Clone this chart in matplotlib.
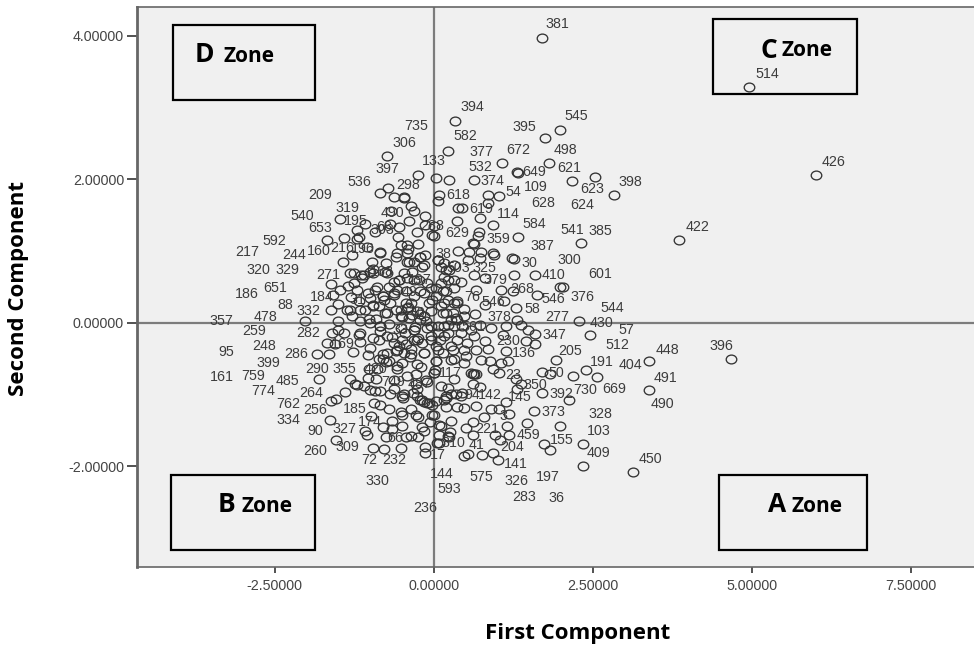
import matplotlib
matplotlib.use("Agg")
import matplotlib.pyplot as plt
from matplotlib.patches import Rectangle
from matplotlib.path import Path
from matplotlib.transforms import Affine2D

W, H = 974, 648

first_component = [
 1.71,4.96,6.01,
 0.33,1.98,1.75,0.22,1.07,1.82,1.31,1.33,0.04,0.24,0.63,2.18,2.53,2.83,0.85,1.02,0.08,0.06,0.85,0.38,0.44,0.73,0.37,0.94,0.71,0.69,1.33,2.31,3.86,0.0,0.0,0.61,0.63,0.38,0.56,0.74,0.93,0.95,1.23,1.27,0.72,0.54,0.06,1.26,1.59,1.98,2.04,0.64,0.32,0.11,0.24,0.16,0.32,0.43,0.80,0.67,1.06,1.25,1.62,1.11,0.80,1.29,0.65,0.48,0.36,1.31,2.29,1.38,1.49,1.59,2.46,1.14,0.90,0.72,1.09,0.03,0.19,0.03,0.22,0.11,0.30,0.48,0.14,0.27,0.37,0.16,0.32,0.45,0.59,0.06,0.22,
 1.59,1.45,1.14,1.92,3.38,4.67,2.40,2.56,2.19,1.71,1.83,3.38,2.13,1.70,1.31,1.38,1.30,1.03,0.88,1.17,0.74,0.58,0.66,1.14,1.19,1.03,0.90,0.66,1.57,0.79,1.47,1.98,1.16,1.19,0.97,1.04,1.73,1.83,2.35,2.34,3.13,0.94,1.01,0.76,0.54,0.47,0.61,0.51,0.61,0.27,0.11,0.22,0.24,0.08,0.48,0.37,0.19,0.0,0.73,0.61,0.43,0.27,0.16,0.03,0.22,0.32,0.0,0.03,0.27,0.48,0.66,0.85,0.30,0.80,0.64,0.43,0.03,0.14,0.48,0.93,1.06,
 -0.74,-0.25,-0.85,-0.72,-0.63,-0.47,-0.46,-0.35,-0.31,-0.67,-0.13,-0.39,-1.47,-1.08,-1.21,-1.18,-0.93,-0.68,-0.55,-1.67,-1.41,-1.21,-1.05,-1.29,-1.43,-0.84,-0.97,-0.56,-0.26,-0.13,-0.02,-0.42,-0.21,-0.57,-0.42,-0.15,-1.31,-1.15,-1.00,-0.73,-0.47,-0.31,-0.63,-1.61,-1.47,-1.34,-1.21,-1.04,-0.89,-0.79,-0.63,-0.44,-0.21,-0.02,-1.50,-1.61,-1.37,-1.08,-0.86,-0.68,-1.58,-2.03,-1.50,-1.29,-1.02,-0.84,-0.31,-0.52,-0.15,-0.05,-1.16,-0.73,
 -1.60,-1.50,-1.41,-1.18,-1.68,-1.55,-1.16,-1.84,-1.65,-1.27,-1.03,-0.86,-0.63,-0.31,-0.15,-0.73,-0.47,0.03,-0.86,-1.02,-0.89,-0.57,0.01,-1.80,-1.32,-1.21,-1.03,-0.90,-1.40,-1.54,-1.61,-1.00,-0.84,-0.63,-0.47,-0.26,-0.94,-0.84,-0.71,-0.21,-0.07,-1.63,-0.99,-0.65,-0.50,-0.28,-0.02,-0.80,-0.65,-0.50,-0.19,-0.15,-1.08,-1.05,-1.54,-0.75,-0.44,-0.36,-0.25,-0.95,-0.78,-0.52,-0.14,-0.13,0.05,0.08,0.08,
 -0.95,-0.78,-0.60,-0.40,-0.22,-0.08,-0.90,-0.70,-0.50,-0.30,-0.12,-0.85,-0.66,-0.45,-0.25,-0.05,-0.55,-0.35,-0.18,0.10,-0.75,-0.58,-0.38,-0.20,0.02,-0.62,-0.42,-0.28,-0.10,0.12,-0.48,-0.33,-0.16,-0.03,0.20,-0.52,-0.36,-0.24,-0.06,0.26,
 -1.25,-1.12,-1.30,-0.96,-0.75,-0.60,-0.40,-0.24,-0.10,-1.18,-0.92,-0.70,-0.54,-0.34,-0.18,-1.00,-0.80,-0.60,-0.44,-0.28,-0.12,
 -1.26,-1.10,-0.95,-0.76,-0.55,-0.39,-0.21,-0.13,-0.31,-0.42,-0.23,-0.79,-0.63,-1.00,-1.16,-1.31,-0.95,-0.76,-0.52,-0.36,-0.26,-0.39,-0.21,-0.05,0.16,0.32,0.19,0.35,0.22,0.06,-0.10,-0.31,-0.52,-0.84,-1.00,-1.16,-0.95,-0.73,-0.50,-0.26,-0.05,0.16,0.37,0.53,0.27,0.06,-0.15,-0.36,-0.57,-0.79,-0.71,-0.50,-0.26,0.32,0.51,0.64,0.61,0.35,0.45,0.19,-0.10,-0.18,-0.26,-0.50,-0.68,-0.92,-1.10,-1.23,-0.42,-0.52,-0.84,0.19,0.16,0.06,0.22,0.14,0.32,0.37,0.11,-0.05,-0.15,-0.31,-0.44,-0.57,-0.42,-0.34,
]
second_component = [
 3.97,3.28,2.06,
 2.81,2.69,2.57,2.39,2.22,2.23,2.10,2.08,2.02,1.99,1.99,1.98,2.03,1.78,1.78,1.77,1.78,1.69,1.67,1.60,1.60,1.46,1.42,1.36,1.26,1.21,1.19,1.11,1.15,1.35,1.21,1.11,1.09,1.00,0.98,0.99,0.97,0.94,0.90,0.89,0.90,0.88,0.88,0.67,0.67,0.50,0.50,0.67,0.81,0.77,0.74,0.64,0.60,0.57,0.62,0.45,0.46,0.44,0.38,0.30,0.24,0.20,0.12,0.19,0.27,0.04,0.03,-0.03,-0.10,-0.16,-0.17,-0.04,-0.07,-0.03,-0.17,0.48,0.44,0.37,0.32,0.23,0.13,0.09,0.13,0.04,0.04,-0.05,-0.05,-0.05,-0.10,-0.14,-0.14,
 -0.29,-0.26,-0.39,-0.52,-0.54,-0.50,-0.66,-0.76,-0.74,-0.69,-0.71,-0.94,-1.08,-0.98,-0.92,-0.86,-0.79,-0.70,-0.54,-0.54,-0.52,-0.70,-0.72,-1.10,-1.27,-1.20,-1.20,-1.16,-1.23,-1.31,-1.40,-1.44,-1.44,-1.56,-1.57,-1.64,-1.69,-1.77,-1.69,-1.99,-2.08,-1.81,-1.91,-1.84,-1.83,-1.86,-1.39,-1.46,-1.56,-1.37,-1.44,-1.58,-1.59,-1.68,-1.19,-1.17,-1.18,-1.29,-0.89,-0.86,-1.02,-1.00,-1.07,-1.09,-0.91,-0.79,-0.70,-0.54,-0.52,-0.38,-0.38,-0.37,-0.38,-0.26,-0.19,-0.14,-0.33,-0.42,-0.56,-0.65,-0.56,
 2.32,2.06,1.81,1.87,1.75,1.75,1.74,1.63,1.56,1.55,1.49,1.42,1.44,1.38,1.29,1.20,1.26,1.38,1.33,1.15,1.18,1.16,1.06,0.94,0.84,0.98,0.84,1.20,1.27,1.36,1.22,1.08,0.92,0.97,0.85,0.81,0.69,0.67,0.71,0.69,0.69,0.60,0.57,0.54,0.46,0.51,0.46,0.41,0.50,0.37,0.41,0.27,0.44,0.32,0.26,0.17,0.18,0.18,0.23,0.27,0.39,0.02,0.02,0.09,0.05,-0.05,-0.10,0.09,0.09,-0.05,0.02,0.13,
 -0.14,-0.10,-0.15,-0.17,-0.28,-0.29,-0.27,-0.43,-0.43,-0.41,-0.45,-0.24,-0.28,-0.24,-0.42,-0.42,-0.42,-0.54,-0.51,-0.65,-0.65,-0.65,-0.70,-0.78,-0.79,-0.87,-0.77,-0.79,-0.96,-1.06,-1.09,-0.94,-0.95,-0.93,-1.00,-0.93,-1.12,-1.15,-1.20,-1.07,-1.12,-1.35,-1.30,-1.37,-1.28,-1.29,-1.29,-1.45,-1.48,-1.44,-1.45,-1.51,-1.51,-1.56,-1.63,-1.59,-1.59,-1.58,-1.59,-1.75,-1.76,-1.74,-1.73,-1.81,-1.67,-1.56,-1.43,
 0.25,0.31,0.18,0.22,0.12,0.28,0.05,-0.02,0.08,-0.06,0.03,-0.12,-0.20,-0.15,-0.22,-0.18,-0.32,-0.36,-0.28,-0.24,-0.55,-0.60,-0.48,-0.62,-0.66,-0.80,-0.74,-0.85,-0.82,-0.88,-1.05,-0.98,-1.10,-1.15,-1.02,-1.25,-1.20,-1.32,-1.38,-1.52,
 0.55,0.62,0.36,0.75,0.83,0.92,1.02,1.10,0.55,0.30,0.45,0.50,0.60,0.70,0.78,-0.35,-0.50,-0.40,-0.30,-0.72,-0.80,
 0.69,0.67,0.69,0.71,0.60,0.85,0.92,0.94,0.85,0.62,0.60,0.37,0.39,0.34,0.18,0.18,0.23,0.13,0.18,0.27,0.16,0.06,0.04,0.16,0.27,0.27,0.13,0.06,-0.03,-0.05,-0.07,-0.10,-0.07,-0.05,0.0,-0.14,-0.21,-0.19,-0.24,-0.24,-0.24,-0.19,-0.24,-0.28,-0.33,-0.38,-0.42,-0.44,-0.38,-0.44,-0.54,-0.56,-0.58,-0.51,-0.47,-0.72,-0.71,-1.00,-0.98,-1.05,-1.12,-1.07,-1.02,-1.02,-1.00,-0.95,-0.88,-0.86,0.97,1.08,0.97,0.74,0.83,0.88,0.60,0.44,0.48,0.30,0.55,0.48,0.41,0.37,0.44,0.46,0.20,0.11,
]

label_text = ["381","514","426","396","735","306","133","397","536","298","209","319","490","540","195","653","68","592","303","217","244","160","216","196","320","329","271","168","186","651","184","31","88","332","478","357","259","282","33","49","197","40","238",
 "394","545","395","582","377","672","498","532","649","621","374","109","54","623","398","618","628","624","619","114","584","541","385","422","629","359","387","38","300","30","503","325","410","601","379","268","76","546","546","376","58","544","378","277","430","57","347","561",
 "512","448","230","136","205","191","404","50","23","117","350","491","392","730","669","145","142","94","373","328","490","3","221","103","459","155","310","41","204","409","450","17","141","144","575","326","197","593","283","36","236",
 "248","95","286","399","290","355","161","759","485","774","264","749","762","256","185","334","174","90","327","260","309","72","232","330","66","169","420","487"]
label_px = [557,767,834,721,416,404,434,387,359,408,320,347,392,302,356,320,384,274,382,247,294,319,342,363,258,287,328,382,247,275,322,357,285,308,265,221,254,308,400,410,420,417,432,
 472,576,524,465,481,518,565,480,534,569,492,536,513,592,630,458,543,582,481,508,534,572,600,698,457,498,542,443,569,529,458,484,553,600,495,522,472,493,553,582,532,612,499,557,602,626,554,473,
 617,667,508,524,570,602,630,556,513,450,535,666,561,585,614,520,490,472,553,600,662,503,487,599,528,562,453,477,512,598,650,438,516,442,481,516,548,449,524,556,425,
 264,226,296,268,317,344,222,253,287,263,311,393,288,315,355,288,370,315,344,315,347,369,394,377,395,343,375,420]
label_py = [24,74,162,346,126,143,161,169,182,185,195,208,213,216,221,228,227,241,230,252,255,251,248,249,270,270,275,272,294,288,297,300,305,311,317,321,331,333,330,292,280,313,226,
 107,116,127,136,152,150,150,167,172,168,181,187,192,189,182,195,203,205,209,214,224,230,231,227,233,239,246,254,260,263,268,268,275,274,280,289,297,302,299,297,309,308,317,317,323,330,335,327,
 345,350,341,353,351,362,365,373,375,373,385,378,394,390,389,397,395,395,412,414,404,416,429,431,435,440,443,445,447,453,459,455,464,474,477,481,477,489,497,498,508,
 346,352,354,363,369,369,377,376,381,391,393,382,404,410,409,420,422,431,429,451,447,460,460,481,438,344,369,384]

x_ticks = [-2.5, 0.0, 2.5, 5.0, 7.5]
y_ticks = [-2.0, 0.0, 2.0, 4.0]
x_title = "First Component"
y_title = "Second Component"
zone_names = ["D", "C", "B", "A"]

plt.rcParams["font.family"] = ["Liberation Sans", "DejaVu Sans"]
fig = plt.figure(figsize=(W / 100, H / 100), dpi=100, facecolor="white")
ax = fig.add_axes([136.5 / W, 1 - 567 / H, (974 - 136.5) / W, 560 / H])
ax.set_facecolor("#f0f0f0")
ax.set_xlim(-4.673, 8.495)
ax.set_ylim(-3.403, 4.397)

ax.axvline(0, color="#7c7c7c", lw=1.6, zorder=1)
ax.axhline(0, color="#7c7c7c", lw=1.6, zorder=1)

oval = Path.unit_circle().transformed(Affine2D().scale(1.2, 1.0))
ax.plot(first_component, second_component, ls="none", marker=oval, ms=7.6,
        mfc="none", mec="#333333", mew=0.95, zorder=2)

ax.set_xticks(x_ticks, [f"{v:.5f}" for v in x_ticks])
ax.set_yticks(y_ticks, [f"{v:.5f}" for v in y_ticks])
ax.tick_params(axis="y", length=7, width=1.2, color="#333333", labelsize=10.3, labelcolor="#444444", pad=2)
ax.tick_params(axis="x", length=4.5, width=1.2, color="#333333", labelsize=10.3, labelcolor="#444444", pad=4)
for side in ("left", "bottom", "top"):
    ax.spines[side].set_color("#666666")
ax.spines["left"].set_linewidth(2)
ax.spines["bottom"].set_linewidth(1.2)
ax.spines["top"].set_linewidth(1.2)
ax.spines["right"].set_visible(False)

for t, px, py in zip(label_text, label_px, label_py):
    fig.text(px / W, 1 - py / H, t, ha="center", va="center", fontsize=10.3,
             color="#3c3c3c", zorder=5)

bold = ["Open Sans", "DejaVu Sans"]
fig.text(578 / W, 1 - 633 / H, x_title, ha="center", va="center", fontsize=16,
         fontweight="bold", family=bold)
fig.text(19 / W, 1 - 289 / H, y_title, ha="center", va="center", fontsize=16,
         fontweight="bold", rotation=90, family=bold)

boxes = [(173, 25, 315, 100), (713, 19, 857, 94), (171, 475, 315, 550), (719, 475, 867, 550)]
letters = [(195, 55), (761, 50), (218, 505), (768, 505)]
zone_x = [223, 782, 241, 792]
for name, (x0, y0, x1, y1), (lx, ly), zx in zip(zone_names, boxes, letters, zone_x):
    fig.add_artist(Rectangle((x0 / W, 1 - y1 / H), (x1 - x0) / W, (y1 - y0) / H,
                             transform=fig.transFigure, fc="none", ec="black", lw=1.6, zorder=3))
    fig.text(lx / W, 1 - ly / H, name, ha="left", va="center", fontsize=19,
             fontweight="bold", family=bold, zorder=6)
    fig.text(zx / W, 1 - (ly + 1) / H, "Zone", ha="left", va="center", fontsize=15,
             fontweight="bold", family=bold, zorder=6)

fig.savefig("out.png", dpi=100)
